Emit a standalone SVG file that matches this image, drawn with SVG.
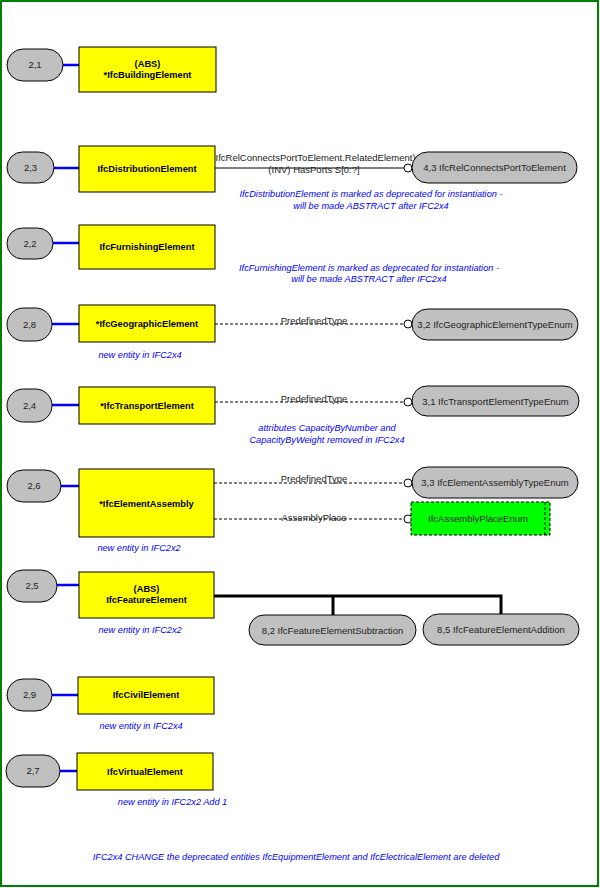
<svg xmlns="http://www.w3.org/2000/svg" width="600" height="888" viewBox="0 0 600 888">
<style>
.pill{fill:#c0c0c0;stroke:#000;stroke-width:1}
.box{fill:#ffff00;stroke:#000;stroke-width:1}
.blue{stroke:#0000ff;stroke-width:2.5}
.sol{stroke:#000;stroke-width:1;fill:none}
.dash{stroke:#000;stroke-width:1;stroke-dasharray:3,2;fill:none}
.thick{stroke:#000;stroke-width:3;fill:none}
.circ{fill:#fff;stroke:#000;stroke-width:1}
text{font-family:"Liberation Sans",Arial,sans-serif;text-anchor:middle}
.pt{font-size:9.5px;fill:#222}
.bt{font-size:9.3px;font-weight:bold;fill:#000}
.lt{font-size:9.5px;fill:#222}
.nt{font-size:9.2px;font-style:italic;fill:#0000ff}
</style>
<rect x="1" y="1" width="597" height="885" fill="#fff" stroke="#008000" stroke-width="2"/>

<g id="connectors">
<line class="blue" x1="63" y1="65" x2="79" y2="65"/>
<line class="blue" x1="54" y1="168" x2="79" y2="168"/>
<line class="blue" x1="53" y1="243" x2="79" y2="243"/>
<line class="blue" x1="52" y1="324" x2="79" y2="324"/>
<line class="blue" x1="52" y1="405" x2="79" y2="405"/>
<line class="blue" x1="61" y1="486" x2="79" y2="486"/>
<line class="blue" x1="57" y1="585" x2="79" y2="585"/>
<line class="blue" x1="52" y1="695" x2="78" y2="695"/>
<line class="blue" x1="60" y1="771" x2="77" y2="771"/>

<line class="sol" x1="215" y1="168" x2="404" y2="168"/>
<circle class="circ" cx="408" cy="168" r="4"/>
<text class="lt" x="314" y="161">(IfcRelConnectsPortToElement.RelatedElement)</text>
<text class="lt" x="314" y="172.5">(INV) HasPorts S[0:?]</text>

<line class="dash" x1="215" y1="324" x2="404" y2="324"/>
<circle class="circ" cx="408" cy="324" r="4"/>
<text class="lt" x="314" y="324">PredefinedType</text>

<line class="dash" x1="215" y1="402" x2="404" y2="402"/>
<circle class="circ" cx="408" cy="402" r="4"/>
<text class="lt" x="314" y="402">PredefinedType</text>

<line class="dash" x1="214" y1="483" x2="404" y2="483"/>
<circle class="circ" cx="408" cy="483" r="4"/>
<text class="lt" x="314" y="482">PredefinedType</text>

<line class="dash" x1="214" y1="519" x2="404" y2="519"/>
<circle class="circ" cx="408" cy="519" r="4"/>
<text class="lt" x="314" y="521">AssemblyPlace</text>

<polyline class="thick" points="214,596 501,596 501,614"/>
<line class="thick" x1="333" y1="596" x2="333" y2="615"/>
</g>

<g id="n21">
<rect class="pill" x="7" y="49" width="56" height="32" rx="16"/>
<text class="pt" x="35" y="68.4">2,1</text>
<rect class="box" x="79" y="47" width="137" height="45"/>
<text class="bt" x="147.5" y="67.4">(ABS)</text>
<text class="bt" x="147.5" y="78.4">*IfcBuildingElement</text>
</g>

<g id="n23">
<rect class="pill" x="7" y="152" width="47" height="31" rx="15.5"/>
<text class="pt" x="30.5" y="171">2,3</text>
<rect class="box" x="79" y="146" width="136" height="46"/>
<text class="bt" x="147" y="172.4">IfcDistributionElement</text>
</g>
<g id="n43">
<rect class="pill" x="412" y="152" width="165" height="31" rx="15.5"/>
<text class="pt" x="494.5" y="171">4,3 IfcRelConnectsPortToElement</text>
</g>
<text class="nt" x="371" y="197.4">IfcDistributionElement is marked as deprecated for instantiation -</text>
<text class="nt" x="371" y="208.5">will be made ABSTRACT after IFC2x4</text>

<g id="n22">
<rect class="pill" x="7" y="228" width="46" height="31" rx="15.5"/>
<text class="pt" x="30" y="247">2,2</text>
<rect class="box" x="79" y="225" width="136" height="44"/>
<text class="bt" x="147" y="250.4">IfcFurnishingElement</text>
</g>
<text class="nt" x="369" y="271.4">IfcFurnishingElement is marked as deprecated for instantiation -</text>
<text class="nt" x="369" y="282.4">will be made ABSTRACT after IFC2x4</text>

<g id="n28">
<rect class="pill" x="7" y="308" width="45" height="33" rx="16.5"/>
<text class="pt" x="29.5" y="328">2,8</text>
<rect class="box" x="79" y="305" width="136" height="37"/>
<text class="bt" x="147" y="327.4">*IfcGeographicElement</text>
</g>
<g id="n32">
<rect class="pill" x="412" y="309" width="166" height="31" rx="15.5"/>
<text class="pt" x="495" y="328">3,2 IfcGeographicElementTypeEnum</text>
</g>
<text class="nt" x="140" y="358.4">new entity in IFC2x4</text>

<g id="n24">
<rect class="pill" x="7" y="389" width="45" height="33" rx="16.5"/>
<text class="pt" x="29.5" y="409">2,4</text>
<rect class="box" x="79" y="387" width="136" height="37"/>
<text class="bt" x="147" y="409">*IfcTransportElement</text>
</g>
<g id="n31">
<rect class="pill" x="412" y="386" width="167" height="30" rx="15"/>
<text class="pt" x="495.5" y="404.5">3,1 IfcTransportElementTypeEnum</text>
</g>
<text class="nt" x="327" y="431">attributes CapacityByNumber and</text>
<text class="nt" x="327" y="442.5">CapacityByWeight removed in IFC2x4</text>

<g id="n26">
<rect class="pill" x="7" y="470" width="54" height="32" rx="16"/>
<text class="pt" x="34" y="489.4">2,6</text>
<rect class="box" x="79" y="469" width="135" height="68"/>
<text class="bt" x="146.5" y="507">*IfcElementAssembly</text>
</g>
<g id="n33">
<rect class="pill" x="412" y="467" width="166" height="31" rx="15.5"/>
<text class="pt" x="495" y="486">3,3 IfcElementAssemblyTypeEnum</text>
</g>
<g id="nAssemblyPlace">
<rect x="411" y="502" width="139" height="33" fill="#00ff00" stroke="#000" stroke-width="1" stroke-dasharray="3,2"/>
<line x1="545" y1="502" x2="545" y2="535" stroke="#000" stroke-width="1" stroke-dasharray="3,2"/>
<text class="pt" x="478" y="522.4">IfcAssemblyPlaceEnum</text>
</g>
<text class="nt" x="139" y="550.5">new entity in IFC2x2</text>

<g id="n25">
<rect class="pill" x="7" y="570" width="50" height="32" rx="16"/>
<text class="pt" x="32" y="589.4">2,5</text>
<rect class="box" x="79" y="572" width="135" height="46"/>
<text class="bt" x="146.5" y="592.4">(ABS)</text>
<text class="bt" x="146.5" y="603.4">IfcFeatureElement</text>
</g>
<g id="n82">
<rect class="pill" x="249" y="615" width="167" height="30" rx="15"/>
<text class="pt" x="332.5" y="633.5">8,2 IfcFeatureElementSubtraction</text>
</g>
<g id="n85">
<rect class="pill" x="423" y="614" width="156" height="31" rx="15.5"/>
<text class="pt" x="501" y="633">8,5 IfcFeatureElementAddition</text>
</g>
<text class="nt" x="140" y="632.5">new entity in IFC2x2</text>

<g id="n29">
<rect class="pill" x="7" y="679" width="45" height="32" rx="16"/>
<text class="pt" x="29.5" y="698.4">2,9</text>
<rect class="box" x="78" y="677" width="136" height="37"/>
<text class="bt" x="146" y="698.4">IfcCivilElement</text>
</g>
<text class="nt" x="141" y="729">new entity in IFC2x4</text>

<g id="n27">
<rect class="pill" x="6" y="755" width="54" height="32" rx="16"/>
<text class="pt" x="33" y="774.4">2,7</text>
<rect class="box" x="77" y="753" width="136" height="37"/>
<text class="bt" x="145" y="775">IfcVirtualElement</text>
</g>
<text class="nt" x="172.5" y="805">new entity in IFC2x2 Add 1</text>

<text class="nt" x="296" y="860">IFC2x4 CHANGE  the deprecated entities IfcEquipmentElement and IfcElectricalElement are deleted</text>
</svg>
